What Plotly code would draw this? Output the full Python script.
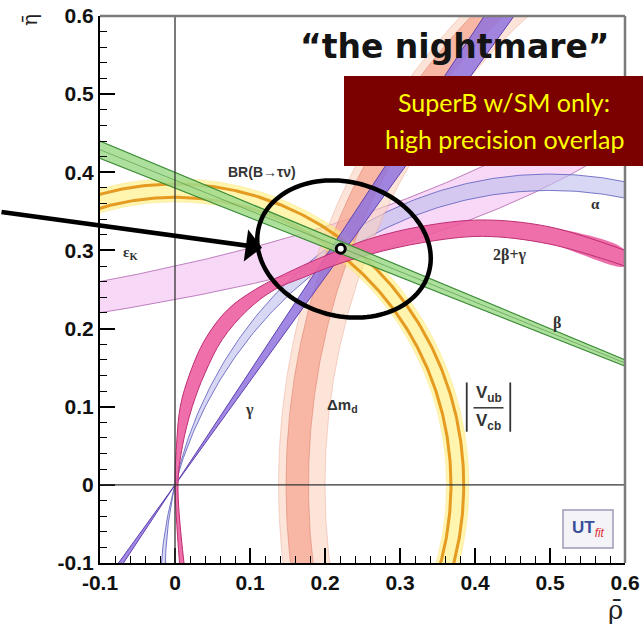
import numpy as np
import plotly.graph_objects as go

# ---------------- axis ticks ----------------
X_TICKS = [-0.1, 0.0, 0.1, 0.2, 0.3, 0.4, 0.5, 0.6]
X_TICK_TEXT = ["-0.1", "0", "0.1", "0.2", "0.3", "0.4", "0.5", "0.6"]
Y_TICKS = [-0.1, 0.0, 0.1, 0.2, 0.3, 0.4, 0.5, 0.6]
Y_TICK_TEXT = ["-0.1", "0", "0.1", "0.2", "0.3", "0.4", "0.5", "0.6"]

# ---------------- constraints in the (rho-bar, eta-bar) plane ----------------
# |Vub/Vcb| and BR(B->tau nu): circles centred on (0, 0)
VUB_FILL_R = [0.362, 0.392]
VUB_RING_R = [0.368, 0.385]
# Delta m_d: circles centred on (1, 0)
DMD_OUTER_R = [0.800, 0.862]
DMD_CORE_R = [0.822, 0.852]
# beta: straight lines through (1, 0), angle in degrees
BETA_DEG = [20.8, 21.8]
# gamma: straight lines through (0, 0), angle in degrees
GAMMA_DEG = [53.0, 55.5]
# alpha: circular arcs through (0, 0) and (1, 0), angle in degrees
ALPHA_DEG = [103.0, 106.0]
# epsilon_K: hyperbolae eta = norm / (offset - rho)
EPSK_NORM = [0.310, 0.366]
EPSK_OFFSET = 1.308
# 2beta+gamma band edges
TBG_OUTER_RHO = [0.006, 0.000, 0.002, 0.007, 0.020, 0.040, 0.070, 0.107, 0.160, 0.200, 0.260, 0.330, 0.410, 0.500, 0.600]
TBG_OUTER_ETA = [-0.100, 0.000, 0.050, 0.100, 0.143, 0.186, 0.224, 0.250, 0.276, 0.293, 0.315, 0.331, 0.339, 0.330, 0.300]
TBG_INNER_RHO = [0.012, 0.004, 0.010, 0.023, 0.040, 0.063, 0.097, 0.133, 0.170, 0.210, 0.260, 0.330, 0.410, 0.500, 0.600]
TBG_INNER_ETA = [-0.100, 0.000, 0.050, 0.100, 0.143, 0.186, 0.224, 0.250, 0.265, 0.280, 0.295, 0.310, 0.318, 0.308, 0.280]
# best-fit apex
APEX_RHO = [0.221]
APEX_ETA = [0.302]

fig = go.Figure()


def add_band(xa, ya, xb, yb, fill, edge, edge_w, shape="linear"):
    xa, ya, xb, yb = map(np.asarray, (xa, ya, xb, yb))
    fig.add_trace(go.Scatter(
        x=np.concatenate([xa, xb[::-1]]), y=np.concatenate([ya, yb[::-1]]),
        mode="lines", fill="toself", fillcolor=fill,
        line=dict(width=0, shape=shape, smoothing=1.0),
        hoverinfo="skip", showlegend=False))
    for xs, ys in ((xa, ya), (xb, yb)):
        fig.add_trace(go.Scatter(
            x=xs, y=ys, mode="lines",
            line=dict(color=edge, width=edge_w, shape=shape, smoothing=1.0),
            hoverinfo="skip", showlegend=False))


def circle(cx, cy, r, t0, t1, n=400):
    t = np.radians(np.linspace(t0, t1, n))
    return cx + r * np.cos(t), cy + r * np.sin(t)


# epsilon_K
rho = np.linspace(-0.15, 0.7, 300)
e_lo = EPSK_NORM[0] / (EPSK_OFFSET - rho)
e_hi = EPSK_NORM[1] / (EPSK_OFFSET - rho)
add_band(rho, e_lo, rho, e_hi, "rgba(242,188,240,0.58)", "rgba(170,90,170,0.75)", 1.0)

# alpha
arcs = []
for a in ALPHA_DEG:
    c = 0.5 / np.tan(np.radians(a))
    R = np.hypot(0.5, c)
    arcs.append(circle(0.5, c, R, -5, 200))
add_band(arcs[0][0], arcs[0][1], arcs[1][0], arcs[1][1],
         "rgba(190,190,236,0.6)", "rgba(105,105,195,0.9)", 1.0)

# Delta m_d
xo1, yo1 = circle(1.0, 0.0, DMD_OUTER_R[0], 110, 200)
xo2, yo2 = circle(1.0, 0.0, DMD_OUTER_R[1], 110, 200)
add_band(xo1, yo1, xo2, yo2, "rgba(250,210,192,0.6)", "rgba(232,160,140,0.55)", 0.8)
xc1, yc1 = circle(1.0, 0.0, DMD_CORE_R[0], 110, 200)
xc2, yc2 = circle(1.0, 0.0, DMD_CORE_R[1], 110, 200)
add_band(xc1, yc1, xc2, yc2, "rgba(243,155,130,0.62)", "rgba(215,115,95,0.6)", 0.8)

# |Vub/Vcb|, BR(B->tau nu)
xv1, yv1 = circle(0.0, 0.0, VUB_FILL_R[0], -25, 200)
xv2, yv2 = circle(0.0, 0.0, VUB_FILL_R[1], -25, 200)
add_band(xv1, yv1, xv2, yv2, "rgba(255,238,120,0.6)", "rgba(245,210,90,0.5)", 0.5)
for r in VUB_RING_R:
    xs, ys = circle(0.0, 0.0, r, -25, 200)
    fig.add_trace(go.Scatter(x=xs, y=ys, mode="lines",
                             line=dict(color="rgba(228,150,25,0.95)", width=3),
                             hoverinfo="skip", showlegend=False))

# gamma
t = np.array([-0.25, 0.0, 0.8])
g_lo, g_hi = np.radians(GAMMA_DEG[0]), np.radians(GAMMA_DEG[1])
add_band(t * np.cos(g_lo), t * np.sin(g_lo), t * np.cos(g_hi), t * np.sin(g_hi),
         "rgba(145,115,222,0.85)", "rgba(95,65,175,1)", 1.0)

# 2beta+gamma
add_band(TBG_OUTER_RHO, TBG_OUTER_ETA, TBG_INNER_RHO, TBG_INNER_ETA,
         "rgba(236,95,160,0.9)", "rgba(190,45,115,1)", 1.0, shape="spline")

# beta
t = np.array([0.0, 1.4])
b_lo, b_hi = np.radians(BETA_DEG[0]), np.radians(BETA_DEG[1])
add_band(1 - t * np.cos(b_lo), t * np.sin(b_lo), 1 - t * np.cos(b_hi), t * np.sin(b_hi),
         "rgba(160,218,140,0.85)", "rgba(60,140,55,1)", 1.2)
b_mid = np.radians(np.mean(BETA_DEG))
fig.add_trace(go.Scatter(x=1 - t * np.cos(b_mid), y=t * np.sin(b_mid), mode="lines",
                         line=dict(color="rgba(80,150,70,0.8)", width=0.8),
                         hoverinfo="skip", showlegend=False))

# apex
fig.add_trace(go.Scatter(x=APEX_RHO, y=APEX_ETA, mode="markers",
                         marker=dict(symbol="circle", size=9, color="white",
                                     line=dict(color="black", width=3)),
                         hoverinfo="skip", showlegend=False))

# ---------------- layout geometry (pixels of the plotting area) ----------------
W, H = 643, 630
ML, MR, MT, MB = 100, 18, 16, 67
PW, PH = W - ML - MR, H - MT - MB


def to_paper(px, py):
    return (px - ML) / PW, (H - MB - py) / PH


shapes = []
# zero lines
shapes.append(dict(type="line", xref="x", yref="y", x0=0, x1=0, y0=-0.1, y1=0.6,
                   line=dict(color="#333333", width=1.3), layer="above"))
shapes.append(dict(type="line", xref="x", yref="y", x0=-0.1, x1=0.6, y0=0, y1=0,
                   line=dict(color="#333333", width=1.3), layer="above"))
# top and right frame
shapes.append(dict(type="line", xref="paper", yref="paper", x0=0, x1=1, y0=1, y1=1,
                   line=dict(color="#7a7a7a", width=2.5), layer="above"))
shapes.append(dict(type="line", xref="paper", yref="paper", x0=1, x1=1, y0=0, y1=1,
                   line=dict(color="#7a7a7a", width=2.5), layer="above"))

# highlight ellipse
cx, cy, a, b, phi = 344, 249, 88, 67, np.radians(15)
tt = np.linspace(0, 2 * np.pi, 121)
ex = cx + a * np.cos(tt) * np.cos(phi) - b * np.sin(tt) * np.sin(phi)
ey = cy + a * np.cos(tt) * np.sin(phi) + b * np.sin(tt) * np.cos(phi)
pts = [to_paper(px, py) for px, py in zip(ex, ey)]
path = "M " + " L ".join(f"{u:.5f},{v:.5f}" for u, v in pts) + " Z"
shapes.append(dict(type="path", xref="paper", yref="paper", path=path,
                   line=dict(color="black", width=4.5), layer="above"))

# dark red text box
bx0, by0 = to_paper(344, 166)
bx1, by1 = to_paper(645, 76)
shapes.append(dict(type="rect", xref="paper", yref="paper", x0=bx0, x1=bx1, y0=by0, y1=by1,
                   fillcolor="#7b0000", line=dict(width=0), layer="above"))

# UTfit logo box
lx0, ly0 = to_paper(563, 548)
lx1, ly1 = to_paper(613, 510)
shapes.append(dict(type="rect", xref="paper", yref="paper", x0=lx0, x1=lx1, y0=ly0, y1=ly1,
                   fillcolor="#f3f3f8", line=dict(color="#9a9ab8", width=1.5), layer="above"))

# |Vub/Vcb| label bars
shapes.append(dict(type="line", xref="x", yref="y", x0=0.398, x1=0.438, y0=0.0986, y1=0.0986,
                   line=dict(color="#333333", width=1.5), layer="above"))
for xb in (0.389, 0.447):
    shapes.append(dict(type="line", xref="x", yref="y", x0=xb, x1=xb, y0=0.068, y1=0.131,
                       line=dict(color="#333333", width=1.8), layer="above"))

annotations = []
serif = "Liberation Serif"
sans = "Liberation Sans"


def label(x, y, text, size=15, family=serif, color="#333333", weight="bold"):
    annotations.append(dict(x=x, y=y, xref="x", yref="y", text=text, showarrow=False,
                            xanchor="center", yanchor="middle",
                            font=dict(family=family, size=size, color=color, weight=weight)))


def paper_text(px, py, text, font, **kw):
    u, v = to_paper(px, py)
    annotations.append(dict(x=u, y=v, xref="paper", yref="paper", text=text, showarrow=False,
                            xanchor="center", yanchor="middle", font=font, **kw))


label(0.116, 0.400, "BR(B\u2192\u03c4\u03bd)", size=14, family=sans)
label(-0.060, 0.297, "\u03b5<sub>K</sub>", size=15)
label(0.560, 0.360, "\u03b1", size=15)
label(0.447, 0.2945, "2\u03b2+\u03b3", size=16)
label(0.509, 0.207, "\u03b2", size=16)
label(0.099, 0.096, "\u03b3", size=16)
label(0.223, 0.101, "\u0394m<sub>d</sub>", size=15, family=sans)
label(0.418, 0.116, "V<sub>ub</sub>", size=17, family=sans)
label(0.418, 0.080, "V<sub>cb</sub>", size=17, family=sans)

# headline and box text
paper_text(455, 46, "\u201cthe nightmare\u201d",
           dict(family="DejaVu Sans", size=33, color="#141414", weight="bold"))
paper_text(504, 102, "SuperB w/SM only:", dict(family="Lato", size=25, color="#ffff00"))
paper_text(504, 139, "high precision overlap", dict(family="Lato", size=25, color="#ffff00"))

# logo text
paper_text(588, 529, "<b><span style='color:#3a4f9a'>UT</span></b>"
                     "<i><sub><span style='color:#e03030'>fit</span></sub></i>",
           dict(family=sans, size=17))

# arrow pointing to the overlap
annotations.append(dict(x=0.116, y=0.3035, xref="x", yref="y", text="", showarrow=True,
                        ax=-262, ay=-36, arrowhead=1, arrowsize=1.2, arrowwidth=4.5,
                        arrowcolor="black"))

# axis titles
paper_text(30, 20, "\u03b7\u0304", dict(family="DejaVu Serif", size=20, color="#222222"),
           textangle=-90)
paper_text(615, 610, "\u03c1\u0304", dict(family="DejaVu Serif", size=26, color="#222222"))

axis_common = dict(
    showgrid=False, zeroline=False, showline=True, linecolor="black", linewidth=2,
    ticks="inside", ticklen=15, tickwidth=1.6, tickcolor="black",
    tickfont=dict(family=sans, size=21, color="#111111", weight="bold"),
    minor=dict(ticks="inside", ticklen=7, tickwidth=1.2, tickcolor="black",
               tickmode="linear", tick0=0, dtick=0.02),
    tickmode="array", fixedrange=True, automargin=False,
)

fig.update_layout(
    width=W, height=H,
    margin=dict(l=ML, r=MR, t=MT, b=MB, autoexpand=False),
    paper_bgcolor="white", plot_bgcolor="white",
    showlegend=False,
    xaxis=dict(range=[-0.1, 0.6], tickvals=X_TICKS, ticktext=X_TICK_TEXT, **axis_common),
    yaxis=dict(range=[-0.1, 0.6], tickvals=Y_TICKS, ticktext=Y_TICK_TEXT, **axis_common),
    shapes=shapes,
    annotations=annotations,
)

fig.write_html("out.html")
